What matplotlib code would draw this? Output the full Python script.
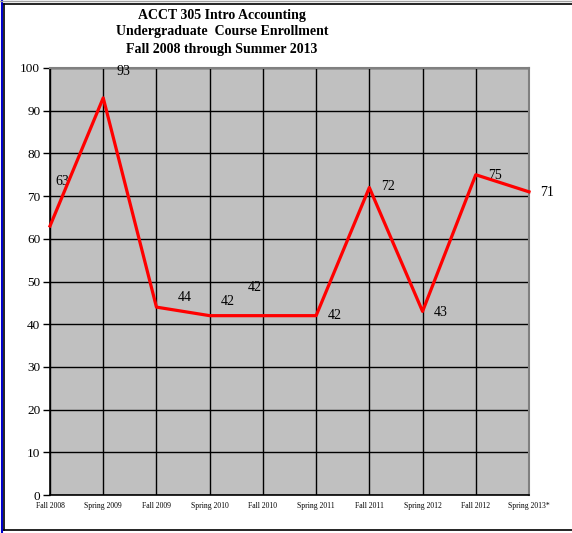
import matplotlib
matplotlib.use("Agg")
import matplotlib.pyplot as plt
from matplotlib.lines import Line2D

terms = ["Fall 2008", "Spring 2009", "Fall 2009", "Spring 2010", "Fall 2010",
         "Spring 2011", "Fall 2011", "Spring 2012", "Fall 2012", "Spring 2013*"]
enrollment = [63, 93, 44, 42, 42, 42, 72, 43, 75, 71]
y_ticks = [0, 10, 20, 30, 40, 50, 60, 70, 80, 90, 100]
title_lines = ["ACCT 305 Intro Accounting",
               "Undergraduate  Course Enrollment",
               "Fall 2008 through Summer 2013"]

# per-label nudges (pixels) for the data labels
label_offsets = [(12, 44), (20, 26), (28, 10), (18, 14), (-8, 28),
                 (19, 0), (19, 1), (18, -1), (19, -1), (18, -1)]

W, H = 572, 533
fig = plt.figure(figsize=(W / 100, H / 100), dpi=100)
plt.rcParams["font.family"] = ["Liberation Serif", "DejaVu Serif"]

# outer frame
fig.add_artist(Line2D([1.5 / W, 1.5 / W], [0, 1], color="#0000cc", lw=1.5))
fig.add_artist(Line2D([3.5 / W, 3.5 / W], [3 / H, 1 - 3.5 / H], color="black", lw=1.2))
fig.add_artist(Line2D([3.5 / W, 1], [1 - 3.5 / H, 1 - 3.5 / H], color="black", lw=1.2))
fig.add_artist(Line2D([0, 1], [1 - 0.5 / H, 1 - 0.5 / H], color="#a0a0a0", lw=1))
fig.add_artist(Line2D([3.5 / W, 1], [3 / H, 3 / H], color="black", lw=1.2))

left, right, top, bottom = 50, 529, 68, 495
ax = fig.add_axes([left / W, (H - bottom) / H, (right - left) / W, (bottom - top) / H])
ax.set_facecolor("#c0c0c0")
x = list(range(len(terms)))
ax.set_xlim(0, len(terms) - 1)
ax.set_ylim(0, 100)
ax.set_yticks(y_ticks)
ax.set_yticklabels([str(v) for v in y_ticks], fontsize=9.5)
ax.set_xticks(x)
ax.set_xticklabels(terms, fontsize=5.5)
ax.tick_params(axis="y", length=5, width=1, pad=2)
ax.tick_params(axis="x", length=0, pad=5)
ax.grid(True, color="black", lw=1)
ax.set_axisbelow(True)
for s in ("left", "bottom"):
    ax.spines[s].set_color("black")
    ax.spines[s].set_linewidth(1.2)
for s in ("top", "right"):
    ax.spines[s].set_color("#808080")
    ax.spines[s].set_linewidth(1.5)

ax.plot(x, enrollment, color="#ff0000", lw=2.3, clip_on=False, zorder=5)

for xi, v, (dx, dy) in zip(x, enrollment, label_offsets):
    ax.annotate(str(v), (xi, v), xytext=(dx * 0.72, dy * 0.72),
                textcoords="offset points", ha="center", va="center",
                fontsize=10, color="black", annotation_clip=False)

for i, line in enumerate(title_lines):
    fig.text(222 / W, 1 - (15 + 17 * i) / H, line, ha="center", va="center",
             fontsize=10, fontweight="bold")

fig.savefig("out.png", dpi=100)
